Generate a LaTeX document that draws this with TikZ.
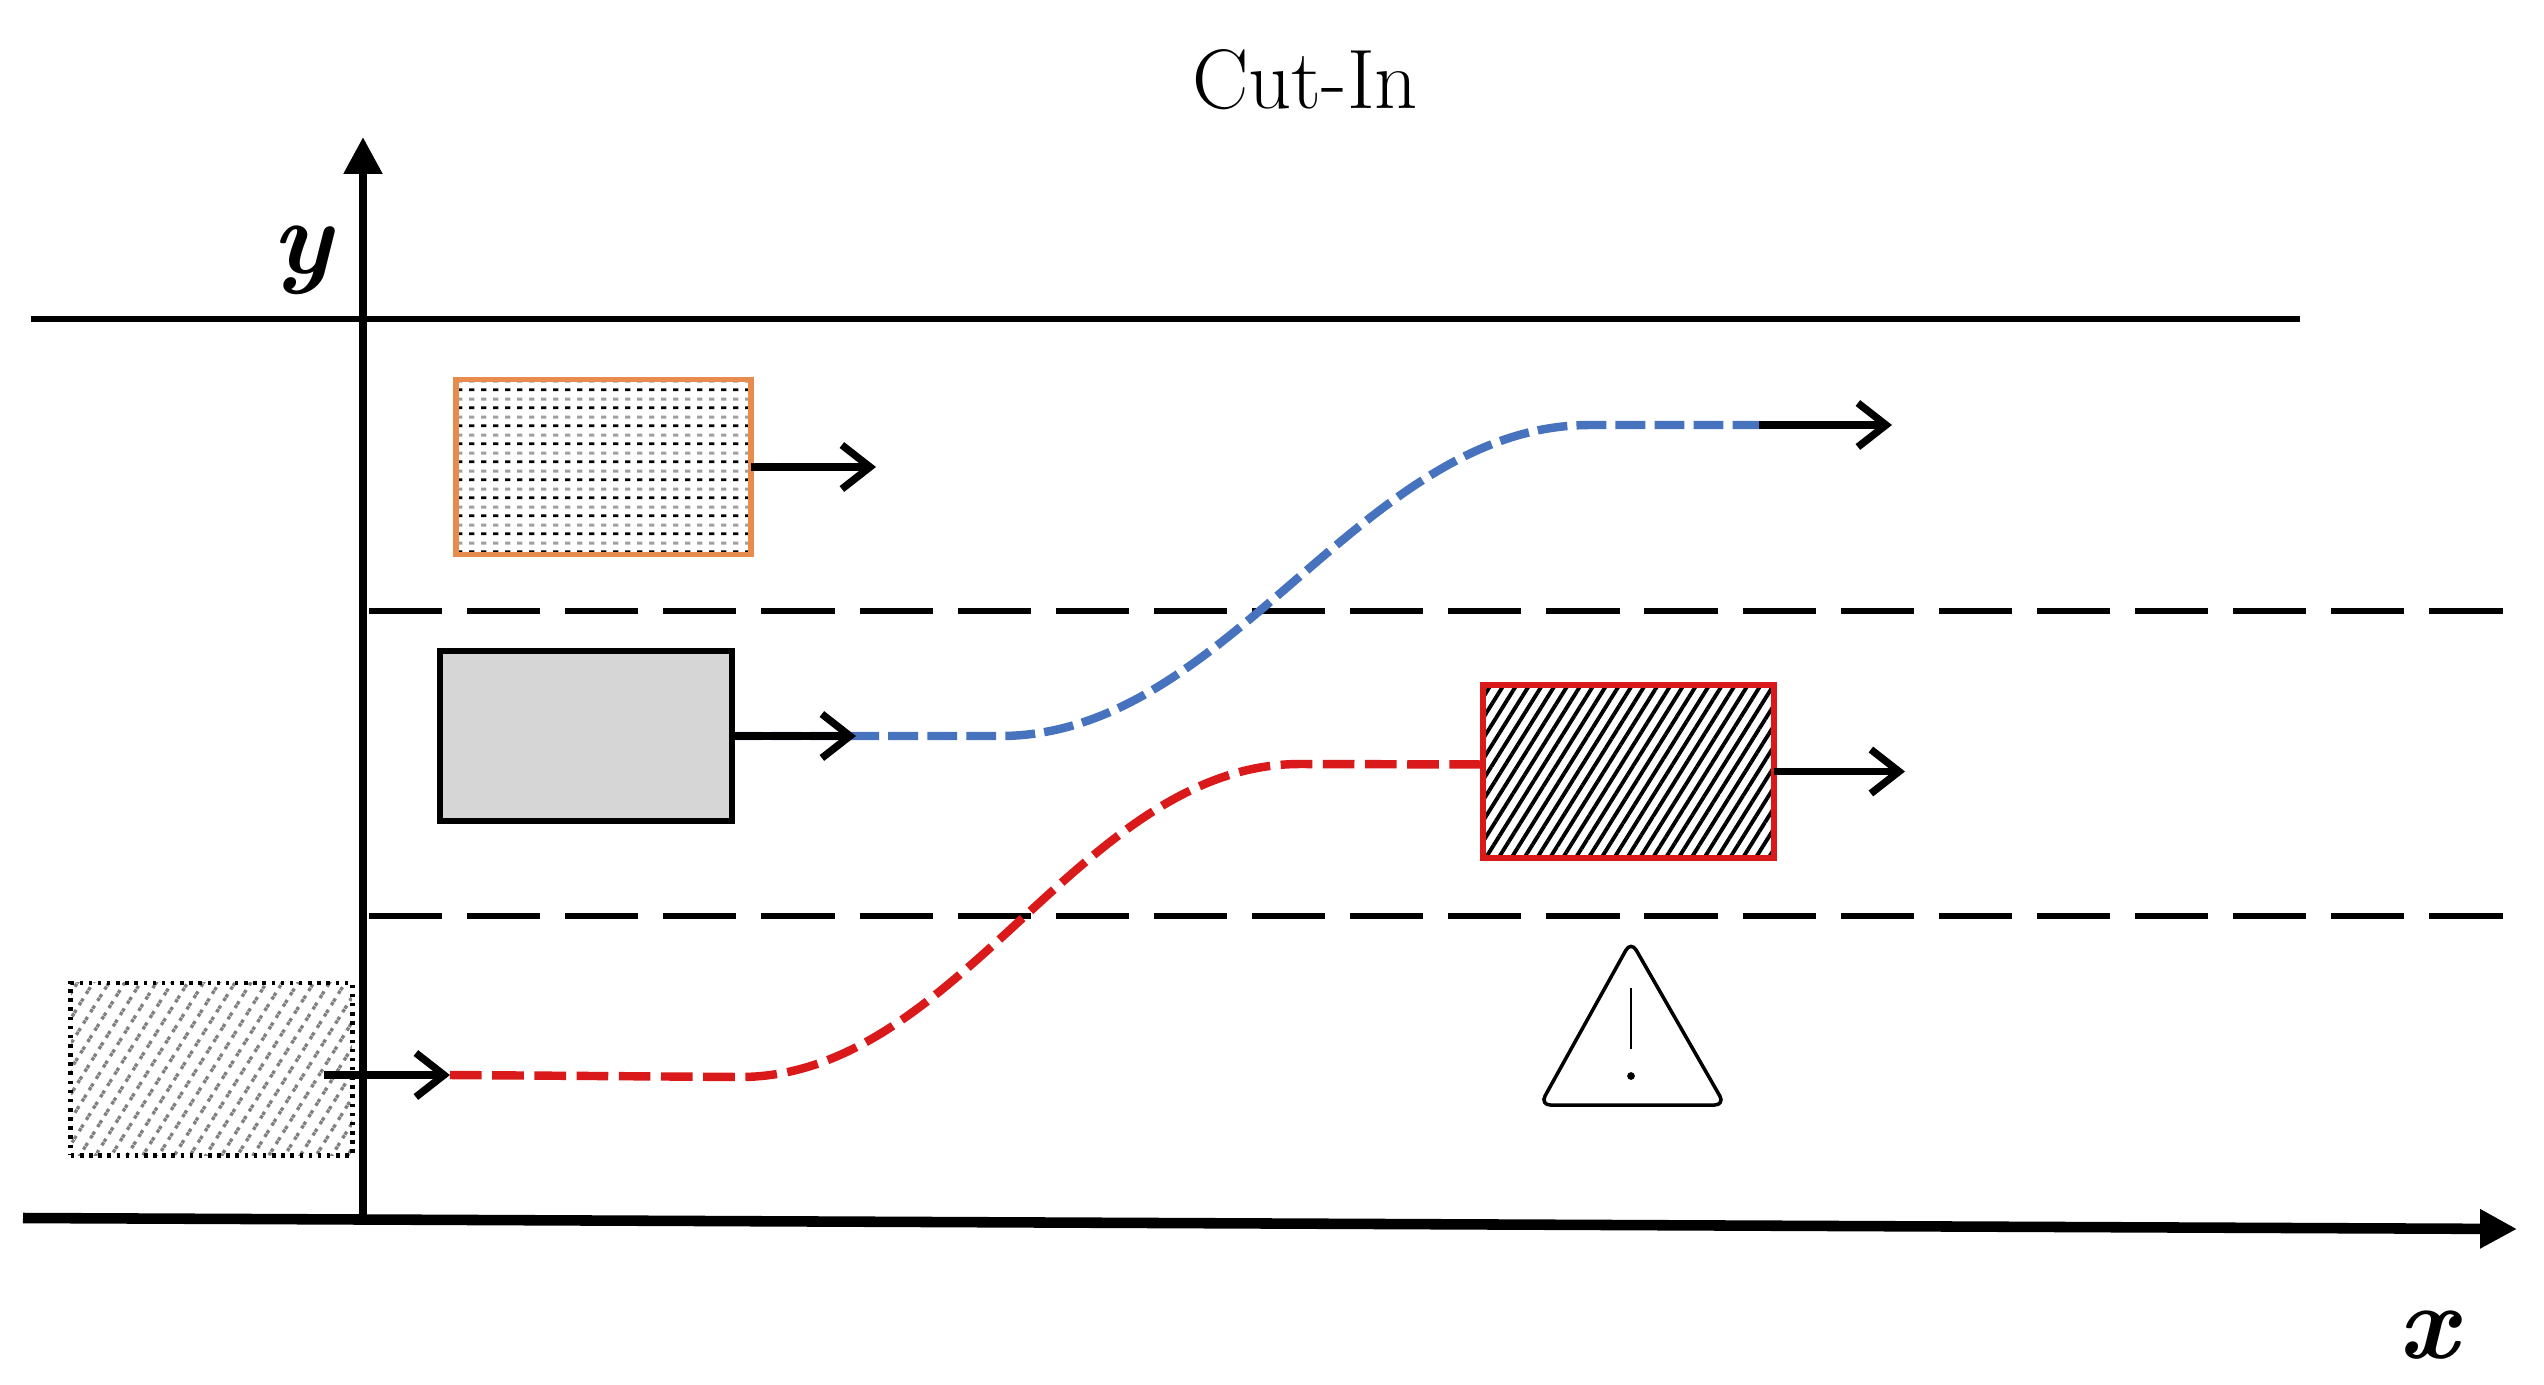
\documentclass[tikz,border=0pt]{standalone}
\usetikzlibrary{arrows.meta,patterns.meta}
\definecolor{laneblue}{RGB}{70,114,190}
\definecolor{lanered}{RGB}{218,26,26}
\definecolor{carorange}{RGB}{232,140,78}
\definecolor{cargray}{RGB}{214,214,214}
\definecolor{dotgray}{RGB}{160,160,160}
\pgfdeclarepattern{
  name=dashrows,
  type=colored,
  bottom left={\pgfpoint{0pt}{0pt}},
  top right={\pgfpoint{3.4pt}{5.12pt}},
  tile size={\pgfpoint{3.4pt}{5.12pt}},
  code={
    \pgfsetfillcolor{black}
    \pgfpathrectangle{\pgfpoint{0.9pt}{0.85pt}}{\pgfpoint{1.5pt}{0.85pt}}
    \pgfusepath{fill}
    \pgfsetfillcolor{dotgray}
    \pgfpathrectangle{\pgfpoint{0.9pt}{3.41pt}}{\pgfpoint{1.5pt}{0.85pt}}
    \pgfusepath{fill}
  }
}
\tikzset{
  lanesolid/.style={line width=1.5pt},
  lanedash/.style={line width=1.7pt, dash pattern=on 20.8pt off 7.1pt},
  axisline/.style={line width=2.4pt, -{Triangle[length=10.5pt,width=10.5pt]}},
  xaxisline/.style={line width=3pt, -{Triangle[length=10.5pt,width=10.5pt]}},
  motion/.style={line width=2.1pt, -{Straight Barb[length=8pt,width=12.5pt]}},
  trajblue/.style={laneblue, line width=2.4pt, dash pattern=on 8.5pt off 2.6pt},
  trajred/.style={lanered, line width=2.4pt, dash pattern=on 9pt off 3pt},
  carbox/.style={rectangle, inner sep=0pt, outer sep=0pt},
  orangecar/.style={carbox, draw=carorange, line width=1.5pt, fill=white,
    pattern={dashrows}, minimum width=2.95cm, minimum height=1.75cm},
  graycar/.style={carbox, draw=black, line width=1.7pt, fill=cargray,
    minimum width=2.92cm, minimum height=1.70cm},
  redcar/.style={carbox, draw=lanered, line width=1.6pt,
    pattern={Lines[angle=58,distance=3.1pt,line width=1.1pt]}, pattern color=black,
    minimum width=2.91cm, minimum height=1.73cm},
  ghostcar/.style={carbox, draw=black, line width=1.4pt, dash pattern=on 1pt off 1.6pt,
    pattern={Lines[angle=58,distance=3.8pt,line width=0.95pt]}, pattern color=black!50,
    minimum width=2.81cm, minimum height=1.72cm},
  warnsign/.style={line width=1pt, rounded corners=3pt},
  axislabel/.style={font=\fontsize{30}{34}\selectfont\bfseries\itshape, anchor=base, inner sep=0pt},
  titlelabel/.style={font=\fontsize{24}{28}\selectfont, inner sep=0pt},
}
\begin{document}
\begin{tikzpicture}[x=0.01cm,y=-0.01cm]
\useasboundingbox (0,0) rectangle (2544,1384);

% title
\node[titlelabel] (title) at (1305,80) {Cut-In};

% road lines
\coordinate (topL) at (31,319);
\coordinate (topR) at (2300,319);
\draw[lanesolid] (topL) -- (topR);
\coordinate (d1L) at (369,611);
\coordinate (d1R) at (2503,611);
\coordinate (d2L) at (369,916);
\coordinate (d2R) at (2503,916);
\draw[lanedash] (d1L) -- (d1R);
\draw[lanedash] (d2L) -- (d2R);

% vehicles
\node[orangecar] (orange) at (603.5,467) {};
\node[graycar] (gray) at (586,736) {};
\node[redcar] (red) at (1628.5,771.5) {};
\node[ghostcar] (ghost) at (211.5,1069) {};

% trajectories
\coordinate (gend) at (856,736);
\coordinate (bend) at (1759,425);
\coordinate (bfin) at (1892,425);
\draw[trajblue] (gray.east) -- (1000,736) .. controls (1230,736) and (1360,425) .. (1590,425) -- (bend);

\coordinate (lstart) at (324,1075);
\coordinate (lend) at (450,1075);
\draw[trajred] (lend) -- (740,1077) .. controls (960,1077) and (1080,764) .. (1300,764) -- ([yshift=2pt]red.west);

% motion arrows
\draw[motion] (orange.east) -- (876,467);
\draw[motion] (gray.east) -- (gend);
\draw[motion] (bend) -- (bfin);
\draw[motion] (red.east) -- (1905,771.5);
\draw[motion] (lstart) -- (lend);

% warning sign
\draw[warnsign] (1631,941) -- (1725,1105) -- (1540,1105) -- cycle;
\draw[line width=0.6pt] (1631,988) -- (1631,1049);
\fill (1631,1076) circle[radius=1.1pt];

% axes
\coordinate (origin) at (363,1219);
\coordinate (ytip) at (363,137);
\coordinate (xstart) at (23,1218);
\coordinate (xtip) at (2517,1229);
\draw[axisline] (origin) -- (ytip);
\draw[xaxisline] (xstart) -- (xtip);
\node[axislabel] (ylab) at (302,273) {y};
\node[axislabel] (xlab) at (2428,1358) {x};
\end{tikzpicture}
\end{document}
